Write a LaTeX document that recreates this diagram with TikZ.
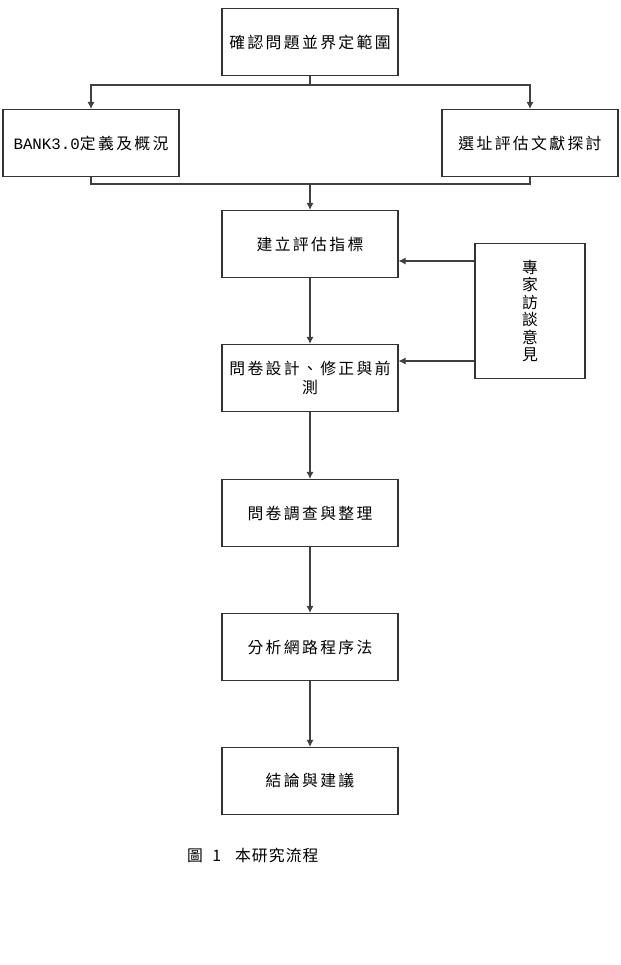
\documentclass[tikz,border=0pt]{standalone}
\usepackage{fontspec}
\usepackage{tikz}
\usetikzlibrary{arrows.meta}
\newfontfamily\cjk[LetterSpace=15]{Noto Sans CJK TC}
\newfontfamily\cjkcap[LetterSpace=7]{Noto Sans CJK TC}
\newfontfamily\latinmono{Liberation Mono}

\begin{document}
\begin{tikzpicture}[x=0.02cm, y=-0.02cm,
    flowbox/.style={draw=black!80, line width=0.6pt, minimum width=3.52cm,
      minimum height=1.34cm, inner sep=1pt, align=center, font=\cjk\fontsize{9}{10.5}\selectfont},
    link/.style={draw=black!75, line width=0.6pt},
    arr/.style={link, -{Latex[length=4pt,width=4pt]}}]
  \useasboundingbox (0,0) rectangle (621,965);

  % Boxes
  \node[flowbox] (scope) at (310,42) {確認問題並界定範圍};
  \node[flowbox] (bank) at (91,143) {{\latinmono BANK3.0}定義及概況};
  \node[flowbox] (lit) at (530,143) {選址評估文獻探討};
  \node[flowbox] (index) at (310,244) {建立評估指標};
  \node[flowbox] (design) at (310,378) {問卷設計、修正與前\\測};
  \node[flowbox] (survey) at (310,513) {問卷調查與整理};
  \node[flowbox] (anp) at (310,647) {分析網路程序法};
  \node[flowbox] (concl) at (310,781) {結論與建議};
  \node[flowbox, minimum width=2.2cm, minimum height=2.7cm,
    font=\cjk\fontsize{9}{10}\selectfont] (expert) at (530,311)
    {專\\家\\訪\\談\\意\\見};

  % Split and merge
  \coordinate (split) at (310,85);
  \coordinate (merge) at (310,184);
  \draw[link] (scope.south) -- (split);
  \draw[arr] (split) -| (bank.north);
  \draw[arr] (split) -| (lit.north);
  \draw[link] (bank.south) |- (merge);
  \draw[link] (lit.south) |- (merge);
  \draw[arr] (merge) -- (index.north);

  % Main chain
  \draw[arr] (index) -- (design);
  \draw[arr] (design) -- (survey);
  \draw[arr] (survey) -- (anp);
  \draw[arr] (anp) -- (concl);

  % Expert opinion
  \draw[arr] (expert.west |- 0,261) -- (index.east |- 0,261);
  \draw[arr] (expert.west |- 0,361) -- (design.east |- 0,361);

  % Caption
  \node[font=\cjkcap\fontsize{9}{11}\selectfont, anchor=west] (cap) at (181,855) {圖\ \ 1\ \ \ 本研究流程};
\end{tikzpicture}
\end{document}
